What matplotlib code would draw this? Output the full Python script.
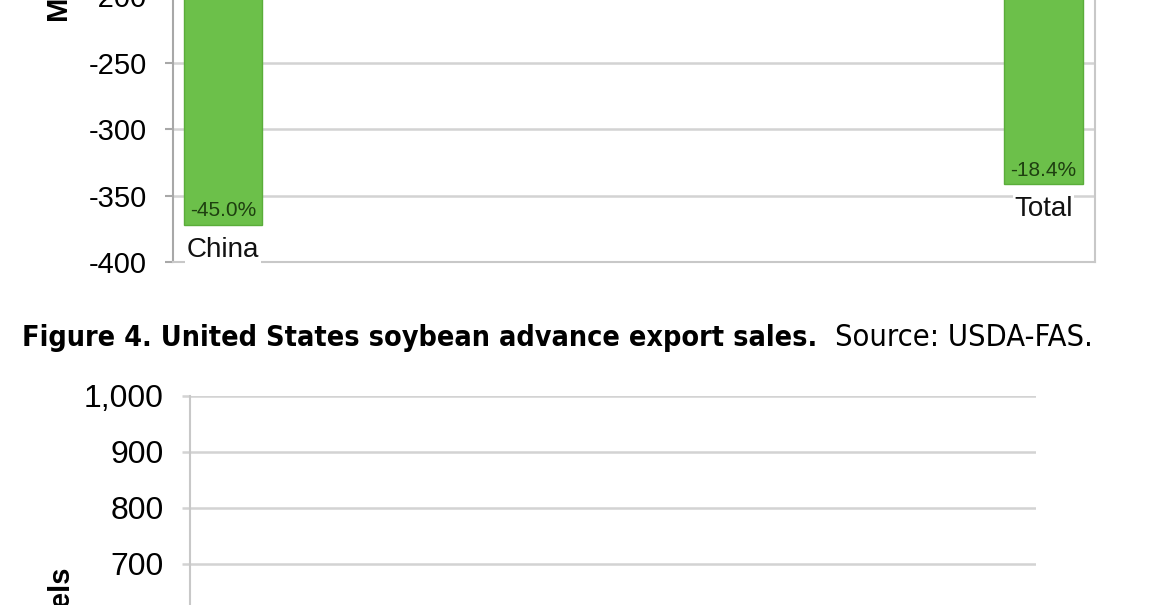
import matplotlib
matplotlib.use("Agg")
import matplotlib.pyplot as plt
import matplotlib.ticker as mticker
import numpy as np

plt.rcParams['font.family'] = ['Liberation Sans', 'DejaVu Sans']
plt.rcParams['axes.unicode_minus'] = False

# top chart (change in sales, cropped at -200)
categories = ["China", "Total"]
change = [-371.8, -341.4]
pct_labels = ["-45.0%", "-18.4%"]
top_ticks = [-400, -350, -300, -250, -200]

# bottom chart (advance export sales)
bottom_ticks = [0, 100, 200, 300, 400, 500, 600, 700, 800, 900, 1000]

caption_bold = "Figure 4. United States soybean advance export sales."
caption_plain = "Source: USDA-FAS."

green = "#6cc04a"
grid_c = "#d3d3d3"

fig = plt.figure(figsize=(11.52, 6.05), dpi=100)

# ---- top axes
ax1 = fig.add_axes([0.1502, 0.5669, 0.8003, 0.4617])
x = np.arange(len(categories))
ax1.bar(x, change, width=0.096, color=green, edgecolor="#5aad3a", linewidth=1, zorder=3)
ax1.set_xlim(-0.061, 1.063)
ax1.set_ylim(-400, -190)
ax1.set_yticks(top_ticks)
ax1.yaxis.grid(True, color=grid_c, linewidth=1.8, zorder=0)
ax1.set_xticks([])
ax1.tick_params(axis='y', labelsize=21, length=6, width=1.5, color="#a8a8a8", pad=13)
ax1.spines["top"].set_visible(False)
ax1.spines["left"].set_color("#a8a8a8")
ax1.spines["left"].set_linewidth(1.5)
ax1.spines["right"].set_color("#c8c8c8")
ax1.spines["right"].set_linewidth(1.5)
ax1.spines["bottom"].set_color("#c8c8c8")
ax1.spines["bottom"].set_linewidth(1.5)
for xi, v, p, c in zip(x, change, pct_labels, categories):
    ax1.annotate(p, (xi, v), xytext=(0, 10), textcoords="offset points",
                 ha="center", va="center", fontsize=15, color="#1e4010", zorder=4)
    ax1.annotate(c, (xi, v), xytext=(0, -18), textcoords="offset points",
                 ha="center", va="center", fontsize=20, color="#111111", zorder=4,
                 bbox=dict(facecolor="white", edgecolor="none", pad=1))
fig.text(60 / 1152, (605 - 22) / 605, "Million bushels", rotation=90,
         ha="center", va="bottom", fontsize=21, fontweight="bold")

# ---- caption (bold part 22..818 px, plain part 835..1093 px)
cap_y = (605 - 338) / 605
t1 = fig.text(22 / 1152, cap_y, caption_bold, ha="left", va="center",
              fontweight="bold", family="DejaVu Sans", stretch="condensed", fontsize=20.6)
t2 = fig.text(835 / 1152, cap_y, caption_plain, ha="left", va="center",
              family="DejaVu Sans", stretch="condensed", fontsize=20.6)
fig.canvas.draw()
w2 = t2.get_window_extent().width
t2.set_fontsize(20.6 * 258 / w2)

# ---- bottom axes
ax2 = fig.add_axes([0.1649, -0.5797, 0.7344, 0.9256])
ax2.set_ylim(0, 1000)
ax2.set_xlim(0, 1)
ax2.set_yticks(bottom_ticks)
ax2.yaxis.set_major_formatter(mticker.FuncFormatter(lambda v, _: f"{int(v):,}"))
ax2.yaxis.grid(True, color=grid_c, linewidth=1.8, zorder=0)
ax2.set_xticks([])
ax2.tick_params(axis='y', labelsize=23, length=6, width=1.8, color=grid_c, pad=13)
for s in ["top", "right", "bottom"]:
    ax2.spines[s].set_visible(False)
ax2.spines["left"].set_color("#c8c8c8")
ax2.spines["left"].set_linewidth(1.5)
fig.text(62 / 1152, (605 - 567) / 605, "Million bushels", rotation=90,
         ha="center", va="top", fontsize=21, fontweight="bold")

fig.savefig("out.png", dpi=100)
